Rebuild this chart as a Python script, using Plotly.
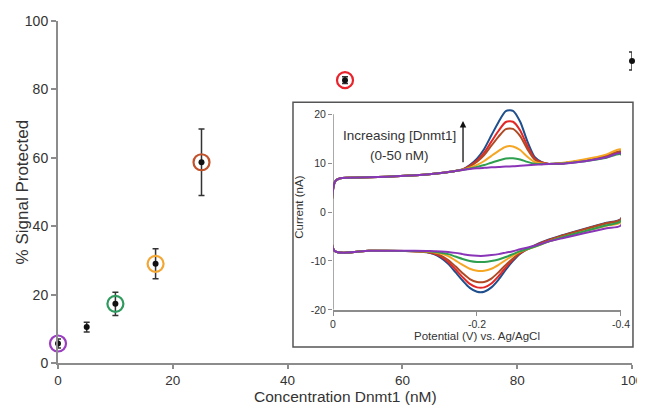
import plotly.graph_objects as go

# ---------------- main plot data ----------------
conc = [0, 5, 10, 17, 25, 50, 100]
signal = [5.7, 10.5, 17.3, 29.0, 58.7, 82.7, 88.3]
signal_err = [1.3, 1.4, 3.4, 4.4, 9.7, 1.0, 2.6]

ring_conc = [0, 10, 17, 25, 50]
ring_signal = [5.7, 17.3, 29.0, 58.7, 82.7]
ring_colors = ["#9a3dbf", "#2f9a5e", "#f2a634", "#c2522b", "#e8232b"]

x_ticks = [0, 20, 40, 60, 80, 100]
y_ticks = [0, 20, 40, 60, 80, 100]

# ---------------- inset (cyclic voltammograms) ----------------
E_start = [-0.002]
I_start = [-7.9]
E_up = [-0.003, -0.01, -0.05, -0.1, -0.13, -0.15, -0.17, -0.18, -0.19, -0.2, -0.21, -0.22,
        -0.23, -0.24, -0.25, -0.26, -0.27, -0.28, -0.29, -0.3, -0.32, -0.35, -0.38, -0.4]
E_low = [-0.4, -0.38, -0.35, -0.32, -0.3, -0.28, -0.26, -0.25, -0.24, -0.23, -0.22, -0.21,
         -0.2, -0.19, -0.18, -0.17, -0.16, -0.15, -0.14, -0.13, -0.1, -0.05, -0.002]

I_up_blue = [6.3, 6.9, 7.1, 7.4, 7.7, 8.0, 8.4, 8.72, 9.62, 10.94, 12.91, 15.70, 18.44, 20.65,
             20.70, 18.46, 14.46, 11.29, 10.22, 9.85, 10.0, 10.6, 11.4, 12.2]
I_up_red = [6.3, 6.9, 7.1, 7.4, 7.7, 8.0, 8.4, 8.69, 9.46, 10.55, 12.15, 14.41, 16.63, 18.42,
            18.47, 16.69, 13.50, 10.97, 10.13, 9.85, 10.0, 10.6, 11.4, 12.3]
I_up_brown = [6.3, 6.9, 7.1, 7.4, 7.7, 8.0, 8.4, 8.68, 9.35, 10.29, 11.66, 13.57, 15.44, 16.96,
              17.01, 15.53, 12.87, 10.76, 10.07, 9.85, 10.0, 10.6, 11.5, 12.4]
I_up_orange = [6.3, 6.9, 7.1, 7.4, 7.7, 8.0, 8.4, 8.64, 9.09, 9.66, 10.44, 11.50, 12.52, 13.37,
               13.42, 12.68, 11.31, 10.24, 9.92, 9.85, 10.1, 10.8, 11.8, 12.8]
I_up_green = [6.3, 6.9, 7.1, 7.4, 7.7, 8.0, 8.4, 8.62, 8.92, 9.24, 9.61, 10.10, 10.54, 10.95,
              11.0, 10.76, 10.26, 9.89, 9.82, 9.85, 9.95, 10.4, 11.1, 11.8]
I_up_purple = [6.3, 6.9, 7.1, 7.4, 7.7, 8.0, 8.4, 8.6, 8.8, 8.95, 9.05, 9.15, 9.2, 9.3,
               9.35, 9.45, 9.55, 9.65, 9.75, 9.85, 9.9, 10.4, 11.2, 12.0]

I_low_blue = [-1.4, -2.2, -3.4, -4.7, -5.6, -6.8, -8.5, -10.0, -11.8, -13.8, -15.4, -16.3,
              -16.3, -15.5, -14.0, -12.3, -10.6, -9.4, -8.6, -8.2, -7.95, -7.9, -7.9]
I_low_red = [-1.5, -2.3, -3.5, -4.8, -5.7, -6.9, -8.4, -9.7, -11.3, -13.1, -14.6, -15.4,
             -15.4, -14.7, -13.3, -11.7, -10.2, -9.1, -8.5, -8.15, -7.95, -7.9, -7.9]
I_low_brown = [-1.5, -2.3, -3.5, -4.8, -5.8, -7.0, -8.3, -9.5, -10.8, -12.3, -13.6, -14.3,
               -14.3, -13.7, -12.5, -11.1, -9.8, -8.9, -8.4, -8.1, -7.95, -7.9, -7.9]
I_low_orange = [-2.0, -2.8, -3.9, -5.1, -6.0, -7.1, -8.1, -8.9, -9.8, -10.8, -11.6, -12.0,
                -12.0, -11.6, -10.8, -9.9, -9.0, -8.5, -8.2, -8.05, -7.95, -7.9, -7.9]
I_low_green = [-1.8, -2.7, -3.9, -5.1, -6.0, -7.1, -8.0, -8.6, -9.2, -9.7, -10.0, -10.2,
               -10.2, -10.0, -9.6, -9.1, -8.6, -8.3, -8.1, -8.0, -7.95, -7.9, -7.9]
I_low_purple = [-2.7, -3.3, -4.3, -5.3, -6.0, -6.9, -7.6, -8.0, -8.3, -8.6, -8.8, -8.95,
                -8.95, -8.85, -8.6, -8.35, -8.15, -8.05, -8.0, -7.95, -7.9, -7.9, -7.9]

cv_curves = [
    ("blue", "#1f4f8c", I_up_blue, I_low_blue),
    ("red", "#e32626", I_up_red, I_low_red),
    ("brown", "#b04a25", I_up_brown, I_low_brown),
    ("orange", "#f5a623", I_up_orange, I_low_orange),
    ("green", "#2e9e4f", I_up_green, I_low_green),
    ("purple", "#8a34b8", I_up_purple, I_low_purple),
]

inset_x_ticks = [0, -0.2, -0.4]
inset_x_labels = ["0", "-0.2", "-0.4"]
inset_y_ticks = [-20, -10, 0, 10, 20]
inset_y_labels = ["-20", "-10", "0", "10", "20"]

FONT = "Liberation Sans, Arial, sans-serif"
AX = "#8c8c8c"
TXT = "#333333"

fig = go.Figure()

# inset curves
for name, col, up, low in cv_curves:
    fig.add_trace(go.Scatter(
        x=E_start + E_up + E_low, y=I_start + up + low,
        mode="lines", line=dict(color=col, width=2, shape="spline", smoothing=0.7),
        xaxis="x2", yaxis="y2", showlegend=False, hoverinfo="skip"))

# main points with error bars
fig.add_trace(go.Scatter(
    x=conc, y=signal, mode="markers",
    marker=dict(color="#111111", size=6),
    error_y=dict(type="data", array=signal_err, color="#333333", thickness=1.5, width=3),
    showlegend=False, cliponaxis=False))

# coloured rings
fig.add_trace(go.Scatter(
    x=ring_conc, y=ring_signal, mode="markers",
    marker=dict(symbol="circle-open", size=16, color=ring_colors, line=dict(width=2.2)),
    showlegend=False, cliponaxis=False))

# inset frame
fig.add_shape(type="rect", xref="paper", yref="paper",
              x0=0.4094, x1=1.0017, y0=0.0469, y1=0.7625,
              line=dict(color="#555555", width=1.5), fillcolor="white", layer="below")
# inset y axis line (only spans -20..20 while the plotting range extends above)
fig.add_shape(type="line", xref="x2", yref="y2", x0=0, x1=0, y0=-20, y1=20,
              line=dict(color=AX, width=1.5), layer="below")

fig.add_annotation(xref="x2", yref="y2", x=-0.093, y=15.7, text="Increasing [Dnmt1]",
                   showarrow=False, font=dict(family=FONT, size=13.5, color=TXT))
fig.add_annotation(xref="x2", yref="y2", x=-0.093, y=11.5, text="(0-50 nM)",
                   showarrow=False, font=dict(family=FONT, size=13.5, color=TXT))
fig.add_annotation(xref="x2", yref="y2", axref="x2", ayref="y2",
                   x=-0.1806, y=18.6, ax=-0.1806, ay=9.9, text="",
                   showarrow=True, arrowhead=2, arrowsize=1, arrowwidth=1.3, arrowcolor="#111111")

# main axis titles
fig.add_annotation(xref="paper", yref="paper", x=0.5, y=-0.0965, yanchor="middle",
                   text="Concentration Dnmt1 (nM)", showarrow=False,
                   font=dict(family=FONT, size=15.5, color=TXT))
fig.add_annotation(xref="paper", yref="paper", x=-0.062, y=0.5, xanchor="center",
                   textangle=-90, text="% Signal Protected", showarrow=False,
                   font=dict(family=FONT, size=17, color=TXT))

# the page body adds an 8 px offset; size the figure so the plot area lands where the reference has it
fig.update_layout(
    width=637, height=397,
    margin=dict(l=50, r=13, t=13, b=42),
    paper_bgcolor="white", plot_bgcolor="white",
    font=dict(family=FONT, color=TXT),
    xaxis=dict(range=[0, 100], tickvals=x_ticks, showgrid=False, zeroline=False, automargin=False,
               showline=True, linecolor=AX, linewidth=2, ticks="outside", ticklen=4,
               tickcolor=AX, tickwidth=1.5, tickfont=dict(size=13.5, color=TXT)),
    yaxis=dict(range=[0, 100], tickvals=y_ticks, showgrid=False, zeroline=False, automargin=False,
               showline=True, linecolor=AX, linewidth=2, ticks="outside", ticklen=5,
               tickcolor=AX, tickwidth=1.5, tickfont=dict(size=14, color=TXT)),
    xaxis2=dict(domain=[0.4791, 0.9808], anchor="y2", range=[0, -0.4],
                tickvals=inset_x_ticks, ticktext=inset_x_labels, automargin=False,
                showgrid=False, zeroline=False, showline=True, linecolor=AX, linewidth=1.5,
                ticks="outside", ticklen=4, tickcolor=AX, tickfont=dict(size=10.5, color=TXT),
                title=dict(text="Potential (V) vs. Ag/AgCl", font=dict(size=11.5, color=TXT), standoff=2)),
    yaxis2=dict(domain=[0.1554, 0.7559], anchor="x2", range=[-20, 22],
                tickvals=inset_y_ticks, ticktext=inset_y_labels, automargin=False,
                showgrid=False, zeroline=False, showline=False,
                ticks="outside", ticklen=4, tickcolor=AX, tickfont=dict(size=10.5, color=TXT),
                title=dict(text="Current (nA)", font=dict(size=11.5, color=TXT), standoff=4)),
)

fig.write_html("out.html")
